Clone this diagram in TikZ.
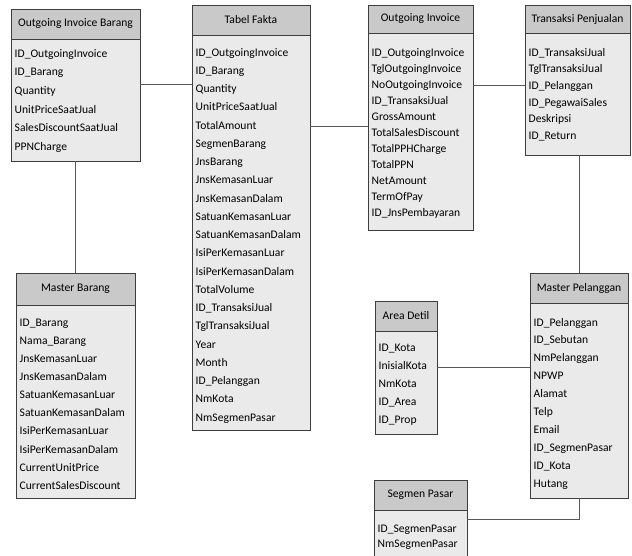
\documentclass[tikz,border=0pt]{standalone}
\usepackage{fontspec}
\setmainfont{Carlito}
\usetikzlibrary{fit,calc}
\definecolor{headgray}{RGB}{201,201,201}
\definecolor{bodygray}{RGB}{234,234,234}
\definecolor{edgegray}{RGB}{62,62,62}
\definecolor{linkgray}{RGB}{88,88,88}
\newcommand{\tablegen}[8]{
  % #1 name, #2 left,top, #3 right,head bottom, #4 bottom, #5 first row, #6 row sep, #7 title, #8 fields
  \coordinate(#1-nw) at (#2);
  \coordinate(#1-hb) at (#3);
  \coordinate(#1-sw) at (#1-nw |- 0,#4);
  \node(#1-head)[head,fit=(#1-nw)(#1-hb)]{};
  \node(#1)[body,fit=(#1-hb)(#1-sw)]{};
  \node(#1-title)[headtext] at (#1-head.center){#7};
  \foreach \fld [count=\i from 0] in {#8}
    \node(#1-\i)[field] at ($(#1-nw |- 0,#5)+(3.5,4+\i*#6)$){\fld};
}

\begin{document}
\begin{tikzpicture}[
  x=1pt,y=-1pt,
  every node/.style={font=\fontsize{11.6}{14}\selectfont},
  head/.style={draw=edgegray,fill=headgray,inner sep=0pt,line width=0.8pt},
  body/.style={draw=edgegray,fill=bodygray,inner sep=0pt,line width=0.8pt},
  headtext/.style={inner sep=0pt},
  field/.style={anchor=base west,inner sep=0pt},
  link/.style={draw=linkgray,line width=0.8pt},
  ]
  \useasboundingbox (0,0) rectangle (632,555);
  \tablegen{oib}{11,9}{140,39}{161}{53}{18.7}{Outgoing Invoice Barang}
    {ID\_OutgoingInvoice,ID\_Barang,Quantity,UnitPriceSaatJual,SalesDiscountSaatJual,PPNCharge}
  \tablegen{fakta}{192,5}{310,35}{430}{52}{18.25}{Tabel Fakta}
    {ID\_OutgoingInvoice,ID\_Barang,Quantity,UnitPriceSaatJual,TotalAmount,SegmenBarang,
     JnsBarang,JnsKemasanLuar,JnsKemasanDalam,SatuanKemasanLuar,SatuanKemasanDalam,
     IsiPerKemasanLuar,IsiPerKemasanDalam,TotalVolume,ID\_TransaksiJual,TglTransaksiJual,
     Year,Month,ID\_Pelanggan,NmKota,NmSegmenPasar}
  \tablegen{oi}{368,5}{473,33}{230}{52}{16}{Outgoing Invoice}
    {ID\_OutgoingInvoice,TglOutgoingInvoice,NoOutgoingInvoice,ID\_TransaksiJual,GrossAmount,
     TotalSalesDiscount,TotalPPHCharge,TotalPPN,NetAmount,TermOfPay,ID\_JnsPembayaran}
  \tablegen{trans}{525,5}{630,33}{155}{52}{16.7}{Transaksi Penjualan}
    {ID\_TransaksiJual,TglTransaksiJual,ID\_Pelanggan,ID\_PegawaiSales,Deskripsi,ID\_Return}
  \tablegen{mbarang}{16,273}{135,305}{498}{322}{18.15}{Master Barang}
    {ID\_Barang,Nama\_Barang,JnsKemasanLuar,JnsKemasanDalam,SatuanKemasanLuar,
     SatuanKemasanDalam,IsiPerKemasanLuar,IsiPerKemasanDalam,CurrentUnitPrice,CurrentSalesDiscount}
  \tablegen{area}{375,301}{437,331}{434}{347}{18}{Area Detil}
    {ID\_Kota,InisialKota,NmKota,ID\_Area,ID\_Prop}
  \tablegen{mpel}{530,273}{628,303}{498}{322}{17.9}{Master Pelanggan}
    {ID\_Pelanggan,ID\_Sebutan,NmPelanggan,NPWP,Alamat,Telp,Email,ID\_SegmenPasar,ID\_Kota,Hutang}
  \tablegen{segmen}{374,480}{467,510}{575}{528}{15.8}{Segmen Pasar}
    {ID\_SegmenPasar,NmSegmenPasar}
  % relations
  \draw[link] (oib.east |- 0,84) -- (fakta.west |- 0,84);
  \draw[link] (oib.south) -- (mbarang-head.north);
  \draw[link] (fakta.east |- 0,126) -- (oi.west |- 0,126);
  \draw[link] (oi.east |- 0,85) -- (trans.west |- 0,85);
  \draw[link] (trans.south -| mpel-head.north) -- (mpel-head.north);
  \draw[link] (area.east |- 0,367) -- (mpel.west |- 0,367);
  \draw[link] (mpel.south) |- (segmen.east |- 0,519);
\end{tikzpicture}
\end{document}
